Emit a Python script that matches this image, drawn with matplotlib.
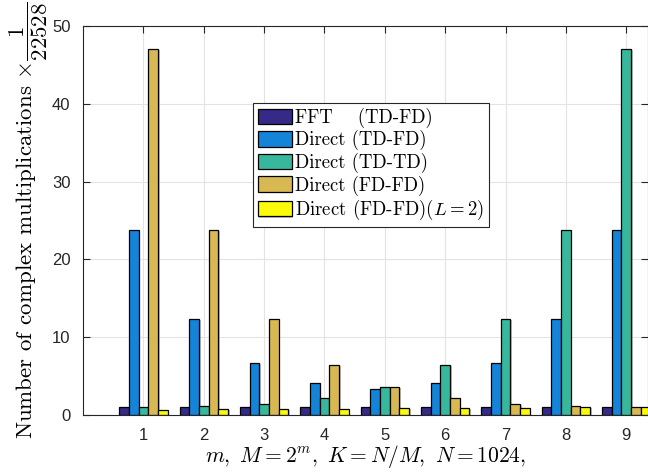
import numpy as np
import matplotlib
matplotlib.use("Agg")
import matplotlib.pyplot as plt
import matplotlib.patheffects as pe

plt.rcParams['mathtext.fontset'] = 'cm'

m = [1, 2, 3, 4, 5, 6, 7, 8, 9]
fft_tdfd = [1.0, 1.0, 1.0, 1.0, 1.0, 1.0, 1.0, 1.0, 1.0]
direct_tdfd = [23.8, 12.3, 6.7, 4.1, 3.35, 4.1, 6.7, 12.3, 23.8]
direct_tdtd = [1.05, 1.16, 1.46, 2.15, 3.57, 6.45, 12.3, 23.8, 47.0]
direct_fdfd = [47.0, 23.8, 12.3, 6.45, 3.57, 2.15, 1.46, 1.16, 1.05]
direct_fdfd_l2 = [0.68, 0.77, 0.8, 0.82, 0.88, 0.9, 0.95, 1.0, 1.0]

labels = ['FFT    (TD-FD)', 'Direct (TD-FD)', 'Direct (TD-TD)',
          'Direct (FD-FD)', r'Direct (FD-FD)$(L=2)$']
colors = ['#352a87', '#1384d8', '#37b89d', '#d8b852', '#fafa0a']
series = [fft_tdfd, direct_tdfd, direct_tdtd, direct_fdfd, direct_fdfd_l2]

fig = plt.figure(figsize=(6.48, 4.76), dpi=100)
ax = fig.add_axes([83/648, 61/476, 565/648, 389/476])

x = np.array(m)
w = 0.16
shadow = [pe.SimplePatchShadow(offset=(1.2, -0.8), shadow_rgbFace='#808080', alpha=0.5), pe.Normal()]
for i, (vals, col, lab) in enumerate(zip(series, colors, labels)):
    bars = ax.bar(x + (i - 2) * w, vals, w, color=col, edgecolor='black',
                  linewidth=0.9, label=lab, zorder=3)
    for b in bars:
        b.set_path_effects(shadow)

ax.set_xlim(0, 9.36)
ax.set_ylim(0, 50)
ax.set_xticks(m)
ax.set_yticks([0, 10, 20, 30, 40, 50])
ax.grid(True, color='#e3e3e3', linewidth=0.8, zorder=0)
ax.set_axisbelow(True)
ax.tick_params(direction='in', top=True, right=True, length=5, width=0.8,
               colors='#262626', labelsize=12, pad=9, zorder=5)
for t in ax.get_xticklabels() + ax.get_yticklabels():
    t.set_fontfamily('Liberation Sans')
for s in ax.spines.values():
    s.set_color('#262626')
    s.set_linewidth(0.8)
    s.set_zorder(6)

ax.set_xlabel(r'$m,\ M=2^m,\ K=N/M,\ N=1024,$', fontsize=15.5, labelpad=0)
ax.set_ylabel(r'Number of complex multiplications $\times\dfrac{1}{22528}$',
              fontsize=16.5, fontfamily='cmr10', labelpad=1)

leg = ax.legend(loc='upper left', bbox_to_anchor=(0.301, 0.802), borderaxespad=0,
                prop={'family': 'cmr10', 'size': 13.5}, fancybox=False,
                edgecolor='#262626', framealpha=1, handlelength=1.8,
                handleheight=0.9, handletextpad=0.2, labelspacing=0.13,
                borderpad=0.25)
leg.get_frame().set_linewidth(0.8)
leg.set_zorder(10)

fig.savefig('out.png', dpi=100)
